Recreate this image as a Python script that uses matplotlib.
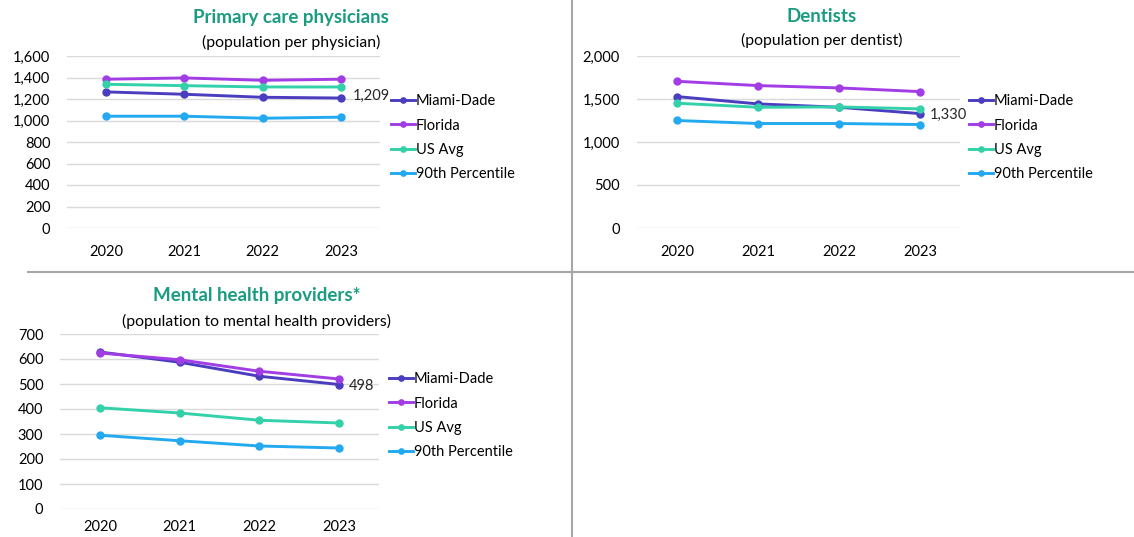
import matplotlib
matplotlib.use("Agg")
import matplotlib.pyplot as plt
from matplotlib.lines import Line2D

plt.rcParams['font.family'] = ['Lato', 'DejaVu Sans']

years = ["2020", "2021", "2022", "2023"]
series_names = ["Miami-Dade", "Florida", "US Avg", "90th Percentile"]
colors = ["#4A3DBF", "#A23DE6", "#33D1AA", "#22A9F0"]

pcp_miami = [1266, 1244, 1216, 1209]
pcp_florida = [1384, 1396, 1374, 1384]
pcp_us = [1337, 1324, 1312, 1312]
pcp_p90 = [1040, 1040, 1021, 1031]

den_miami = [1528, 1443, 1404, 1330]
den_florida = [1706, 1656, 1629, 1586]
den_us = [1451, 1404, 1408, 1385]
den_p90 = [1250, 1215, 1215, 1203]

mh_miami = [628, 587, 531, 498]
mh_florida = [624, 597, 551, 520]
mh_us = [405, 384, 355, 344]
mh_p90 = [295, 273, 252, 244]

W, H = 1134, 537
fig = plt.figure(figsize=(W / 100, H / 100), dpi=100)
fig.patch.set_facecolor("white")

title_color = "#1A9C80"


def px_axes(x0, x1, ytop, ybot):
    return fig.add_axes([x0 / W, 1 - ybot / H, (x1 - x0) / W, (ybot - ytop) / H])


def panel(ax, data, ymax, ystep, label, legend_pos, label_off, xpad=12):
    x = list(range(len(years)))
    for vals, c, name in zip(data, colors, series_names):
        ax.plot(x, vals, color=c, lw=2.1, marker="o", ms=5, label=name,
                solid_capstyle="round", zorder=3)
    ax.set_xlim(-0.5, len(years) - 0.5)
    ax.set_ylim(0, ymax)
    ax.set_yticks(range(0, ymax + 1, ystep))
    ax.set_yticklabels([f"{v:,}" for v in range(0, ymax + 1, ystep)])
    ax.set_xticks(x)
    ax.set_xticklabels(years)
    for s in ax.spines.values():
        s.set_visible(False)
    ax.grid(axis="y", color="#D9D9D9", lw=1.0, zorder=0)
    ax.tick_params(axis="both", length=0, labelsize=10.5, colors="#000000")
    ax.tick_params(axis="x", pad=xpad)
    ax.tick_params(axis="y", pad=12)
    ax.annotate(label, xy=(3, data[0][-1]), xytext=label_off,
                textcoords="offset pixels", fontsize=10.5, color="#262626",
                va="center", ha="left")
    handles = [Line2D([0], [0], color=c, lw=2.1, marker="o", ms=3.8)
               for c in colors]
    ax.legend(handles, series_names, loc="upper left",
              bbox_to_anchor=(legend_pos[0] / W, 1 - legend_pos[1] / H),
              bbox_transform=fig.transFigure, frameon=False, fontsize=10.5,
              handlelength=1.65, handletextpad=0.05, labelspacing=0.72,
              borderpad=0, borderaxespad=0)


ax1 = px_axes(67, 380, 56, 228)
panel(ax1, [pcp_miami, pcp_florida, pcp_us, pcp_p90], 1600, 200, "1,209",
      (391, 94), (12, 2))
ax2 = px_axes(636.5, 960.5, 56, 228)
panel(ax2, [den_miami, den_florida, den_us, den_p90], 2000, 500, "1,330",
      (969, 94), (10, -1))
ax3 = px_axes(60, 379, 334, 509)
panel(ax3, [mh_miami, mh_florida, mh_us, mh_p90], 700, 100, "498",
      (389, 372), (10, -2), xpad=8)


def titles(xc, y1, y2, t, sub):
    fig.text(xc / W, 1 - y1 / H, t, ha="center", va="center", fontsize=13.5,
             fontweight="bold", color=title_color)
    fig.text(xc / W, 1 - y2 / H, sub, ha="center", va="center", fontsize=11.3,
             color="#000000")


titles(291, 18, 42, "Primary care physicians", "(population per physician)")
titles(822, 17, 40, "Dentists", "(population per dentist)")
titles(257, 295, 321, "Mental health providers*", "(population to mental health providers)")

# Separators
fig.add_artist(Line2D([571.5 / W, 571.5 / W], [0, 1], color="#A6A6A6", lw=1.5))
fig.add_artist(Line2D([28 / W, 1], [1 - 271.5 / H, 1 - 271.5 / H], color="#A6A6A6", lw=1.5))

fig.savefig("out.png", dpi=100, facecolor="white")
